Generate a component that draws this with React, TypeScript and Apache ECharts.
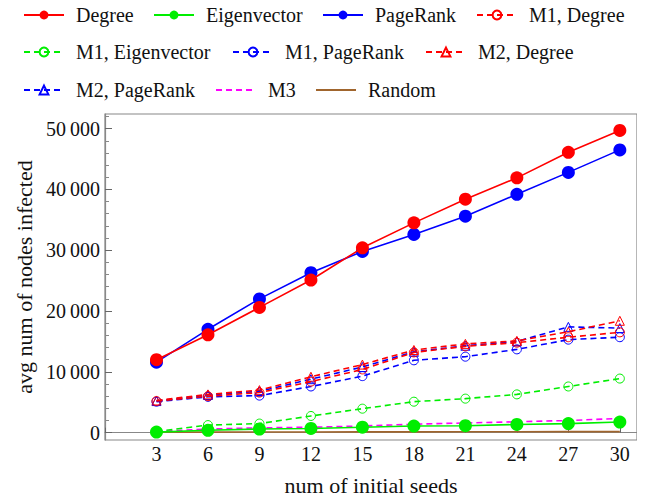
import React, { useEffect, useRef } from "react";
import * as echarts from "echarts";

const seeds = [3, 6, 9, 12, 15, 18, 21, 24, 27, 30];
const degree = [12000, 16100, 20600, 25100, 30400, 34500, 38400, 41900, 46100, 49700];
const eigenvector = [100, 400, 600, 700, 900, 1100, 1150, 1350, 1500, 1750];
const pageRank = [11600, 17000, 22000, 26300, 29800, 32600, 35600, 39200, 42800, 46500];
const m1Degree = [5200, 6000, 6600, 8400, 10400, 13200, 14200, 14800, 15700, 16500];
const m1Eigenvector = [200, 1250, 1500, 2750, 3950, 5100, 5600, 6300, 7600, 8900];
const m1PageRank = [5100, 5900, 6100, 7600, 9300, 11900, 12500, 13700, 15300, 15700];
const m2Degree = [5300, 6300, 7000, 9200, 11200, 13600, 14600, 15100, 16600, 18400];
const m2PageRank = [5200, 6200, 6800, 8800, 10800, 13300, 14300, 15000, 17400, 17200];
const m3 = [200, 600, 800, 900, 1100, 1400, 1600, 1800, 2000, 2350];
const random = [80, 100, 110, 120, 130, 140, 150, 160, 170, 180];

const yTicks = [0, 10000, 20000, 30000, 40000, 50000];
const yMinorTicks = [2000, 4000, 6000, 8000, 12000, 14000, 16000, 18000, 22000, 24000, 26000, 28000, 32000, 34000, 36000, 38000, 42000, 44000, 46000, 48000, 52000];

const RED = "#ff0000";
const GREEN = "#00ee00";
const BLUE = "#0000ff";
const MAGENTA = "#ff00ff";
const BROWN = "#a0652d";
const FONT = "Liberation Serif";

const zip = (ys: number[]) => seeds.map((x, i) => [x, ys[i]]);

type S = { name: string; data: number[]; color: string; dashed: boolean; symbol: string; hollow: boolean; size: number };
const seriesDefs: S[] = [
  { name: "Degree", data: degree, color: RED, dashed: false, symbol: "circle", hollow: false, size: 13 },
  { name: "Eigenvector", data: eigenvector, color: GREEN, dashed: false, symbol: "circle", hollow: false, size: 13 },
  { name: "PageRank", data: pageRank, color: BLUE, dashed: false, symbol: "circle", hollow: false, size: 13 },
  { name: "M1, Degree", data: m1Degree, color: RED, dashed: true, symbol: "circle", hollow: true, size: 9 },
  { name: "M1, Eigenvector", data: m1Eigenvector, color: GREEN, dashed: true, symbol: "circle", hollow: true, size: 9 },
  { name: "M1, PageRank", data: m1PageRank, color: BLUE, dashed: true, symbol: "circle", hollow: true, size: 9 },
  { name: "M2, Degree", data: m2Degree, color: RED, dashed: true, symbol: "triangle", hollow: true, size: 9 },
  { name: "M2, PageRank", data: m2PageRank, color: BLUE, dashed: true, symbol: "triangle", hollow: true, size: 9 },
  { name: "M3", data: m3, color: MAGENTA, dashed: true, symbol: "none", hollow: false, size: 0 },
  { name: "Random", data: random, color: BROWN, dashed: false, symbol: "none", hollow: false, size: 0 },
];

const legendPos: [string, number, number][] = [
  ["Degree", 23, 5],
  ["Eigenvector", 153, 5],
  ["PageRank", 322, 5],
  ["M1, Degree", 476, 5],
  ["M1, Eigenvector", 23, 42],
  ["M1, PageRank", 232, 42],
  ["M2, Degree", 425, 42],
  ["M2, PageRank", 23, 80],
  ["M3", 215, 80],
  ["Random", 315, 80],
];
const noSymbolLegend = ["M3", "Random"];

const fmt = (v: number) => {
  if (v === 0) return "0";
  const s = String(v);
  return s.slice(0, s.length - 3) + "\u2009" + s.slice(-3);
};

export default function App() {
  const ref = useRef<HTMLDivElement>(null);
  useEffect(() => {
    if (!ref.current) return;
    const chart = echarts.init(ref.current, undefined, { renderer: "svg" });
    const series = seriesDefs.map((d, i) => ({
      type: "line",
      name: d.name,
      data: zip(d.data),
      z: 10 - i,
      symbol: d.symbol,
      symbolSize: d.size,
      showSymbol: d.symbol !== "none",
      lineStyle: { color: d.color, width: 1.6, type: d.dashed ? [6, 4] : "solid" },
      itemStyle: d.hollow
        ? { color: "rgba(255,255,255,0)", borderColor: d.color, borderWidth: 1 }
        : { color: d.color, borderWidth: 0 },
      emphasis: { disabled: true },
    }));
    chart.setOption({
      animation: false,
      backgroundColor: "#ffffff",
      legend: legendPos.map(([name, left, top]) => {
        const l: any = {
          data: [name],
          left,
          top,
          padding: 0,
          itemWidth: 40,
          itemHeight: 11,
          selectedMode: false,
          textStyle: { fontFamily: FONT, fontSize: 20, color: "#111", padding: [0, 0, 0, 7] },
        };
        if (noSymbolLegend.includes(name)) l.itemStyle = { opacity: 0 };
        return l;
      }),
      grid: { left: 105, top: 114, right: 8, bottom: 57, show: true, borderColor: "#888", borderWidth: 1.2 },
      xAxis: {
        type: "value",
        min: 0,
        max: 31,
        interval: 3,
        name: "num of initial seeds",
        nameLocation: "middle",
        nameGap: 34,
        nameTextStyle: { fontFamily: FONT, fontSize: 22, color: "#111" },
        axisLine: { show: true, lineStyle: { color: "#888", width: 1.2 } },
        axisTick: { show: true, inside: true, length: 5, lineStyle: { color: "#666" } },
        axisLabel: {
          fontFamily: FONT,
          fontSize: 20,
          color: "#111",
          margin: 4,
          formatter: (v: number) => (v > 0 && v % 3 === 0 ? String(v) : ""),
        },
        splitLine: { show: false },
      },
      yAxis: [
        {
          type: "value",
          min: -1200,
          max: 52400,
          name: "avg num of nodes infected",
          nameLocation: "middle",
          nameGap: 62,
          nameTextStyle: { fontFamily: FONT, fontSize: 22, color: "#111" },
          axisLine: { show: true, lineStyle: { color: "#888", width: 1.2 } },
          axisTick: { show: true, inside: true, length: 7, lineStyle: { color: "#666" }, customValues: yTicks },
          axisLabel: {
            fontFamily: FONT,
            fontSize: 20,
            color: "#111",
            margin: 5,
            customValues: yTicks,
            formatter: fmt,
          },
          splitLine: { show: false },
        },
        {
          type: "value",
          position: "left",
          min: -1200,
          max: 52400,
          axisLine: { show: false },
          axisTick: { show: true, inside: true, length: 4, lineStyle: { color: "#888" }, customValues: yMinorTicks },
          axisLabel: { show: false, customValues: yMinorTicks },
          splitLine: { show: false },
        },
      ],
      series,
    });
    return () => chart.dispose();
  }, []);
  return <div ref={ref} style={{ width: 645, height: 501, margin: -8 }} />;
}
